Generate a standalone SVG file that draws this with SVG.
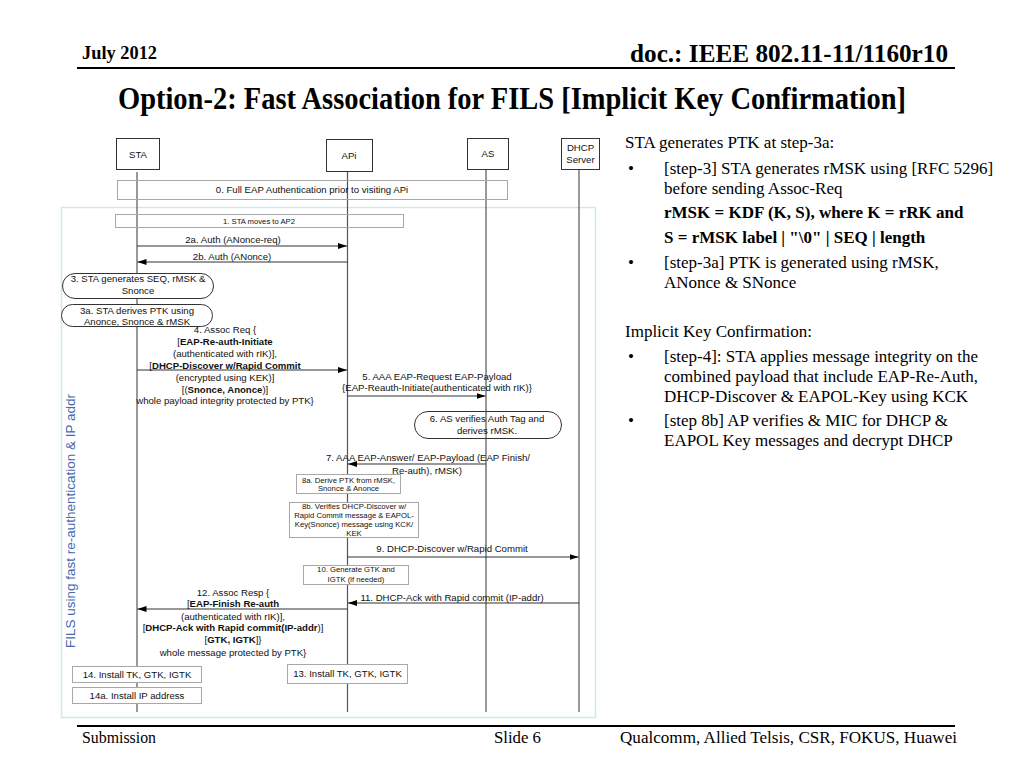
<svg xmlns="http://www.w3.org/2000/svg" width="1024" height="768" viewBox="0 0 1024 768">
<style>
.serif{font-family:"Liberation Serif","Times New Roman",serif;fill:#000}
.sans{font-family:"Liberation Sans",Arial,sans-serif;fill:#111;font-size:9.6px}
.sm{font-size:7.7px}
.mid{text-anchor:middle}
.b{font-weight:bold}
.part{fill:#fff;stroke:#333;stroke-width:1}
.gbox{fill:#fff;stroke:#a8a8a8;stroke-width:1}
.obox{fill:none;stroke:#a8a8a8;stroke-width:1}
.pill{fill:#fff;stroke:#333;stroke-width:1}
.life{stroke:#555;stroke-width:1.2;fill:none}
.msg{stroke:#333;stroke-width:1.1;fill:none;marker-end:url(#ah)}
</style>
<defs>
<marker id="ah" markerUnits="userSpaceOnUse" markerWidth="10" markerHeight="8" refX="9" refY="3" orient="auto">
<path d="M0,0 L9,3 L0,6 Z" fill="#000"/>
</marker>
</defs>
<rect width="1024" height="768" fill="#fff"/>
<!-- header -->
<text class="serif b" x="82" y="59" font-size="18" textLength="75" lengthAdjust="spacingAndGlyphs">July 2012</text>
<text class="serif b" x="948" y="62" font-size="26" text-anchor="end" textLength="318" lengthAdjust="spacingAndGlyphs">doc.: IEEE 802.11-11/1160r10</text>
<line x1="77" y1="68" x2="955" y2="68" stroke="#000" stroke-width="2"/>
<text class="serif b" x="118" y="109" font-size="31" textLength="788" lengthAdjust="spacingAndGlyphs">Option-2: Fast Association for FILS [Implicit Key Confirmation]</text>
<!-- footer -->
<line x1="77" y1="726" x2="955" y2="726" stroke="#000" stroke-width="2"/>
<text class="serif" x="82" y="743" font-size="17" textLength="74" lengthAdjust="spacingAndGlyphs">Submission</text>
<text class="serif" x="494" y="743" font-size="17" textLength="47" lengthAdjust="spacingAndGlyphs">Slide 6</text>
<text class="serif" x="620" y="743" font-size="17" textLength="337" lengthAdjust="spacingAndGlyphs">Qualcomm, Allied Telsis, CSR, FOKUS, Huawei</text>
<!-- right text -->
<g class="serif" font-size="17">
<text x="625" y="148">STA generates PTK at step-3a:</text>
<text x="628" y="174">•</text>
<text x="664" y="174">[step-3] STA generates rMSK using [RFC 5296]</text>
<text x="664" y="194">before sending Assoc-Req</text>
<text x="664" y="218" font-weight="bold">rMSK = KDF (K, S), where K = rRK and</text>
<text x="664" y="243" font-weight="bold">S = rMSK label | "\0" | SEQ | length</text>
<text x="628" y="268">•</text>
<text x="664" y="268">[step-3a] PTK is generated using rMSK,</text>
<text x="664" y="288">ANonce &amp; SNonce</text>
<text x="625" y="337">Implicit Key Confirmation:</text>
<text x="628" y="362">•</text>
<text x="664" y="362">[step-4]: STA applies message integrity on the</text>
<text x="664" y="382">combined payload that include EAP-Re-Auth,</text>
<text x="664" y="402">DHCP-Discover &amp; EAPOL-Key using KCK</text>
<text x="628" y="426">•</text>
<text x="664" y="426">[step 8b] AP verifies &amp; MIC for DHCP &amp;</text>
<text x="664" y="446">EAPOL Key messages and decrypt DHCP</text>
</g>
<!-- FILS frame -->
<g id="fils-frame">
<rect x="61.5" y="207.5" width="534" height="510" fill="none" stroke="#d3e6ea" stroke-width="1.5"/>
<text transform="translate(75,521) rotate(-90)" font-family="Liberation Sans,Arial,sans-serif" font-size="13.5" fill="#4469b0" text-anchor="middle">FILS using fast re-authentication &amp; IP addr</text>
</g>
<!-- lifelines -->
<g id="lifelines">
<line class="life" x1="137" y1="172" x2="137" y2="712"/>
<line class="life" x1="347.5" y1="171" x2="347.5" y2="712"/>
<line class="life" x1="486" y1="169" x2="486" y2="712"/>
<line class="life" x1="579" y1="169" x2="579" y2="712"/>
</g>
<!-- participants -->
<g id="sta"><rect class="part" x="116.5" y="138.5" width="43" height="31"/><text class="sans mid" x="138" y="157.5">STA</text></g>
<g id="api"><rect class="part" x="326.5" y="139.5" width="46" height="32"/><text class="sans mid" x="349" y="158.5">APi</text></g>
<g id="as"><rect class="part" x="467.5" y="138.5" width="41" height="31"/><text class="sans mid" x="488" y="156.5">AS</text></g>
<g id="dhcp"><rect class="part" x="561.5" y="138.5" width="38" height="31"/><text class="sans mid" x="580.5" y="150.5">DHCP</text><text class="sans mid" x="580.5" y="162.5">Server</text></g>
<!-- notes -->
<g id="step0"><rect class="obox" x="117.5" y="180.5" width="390" height="19"/><text class="sans mid" x="312" y="192.8">0. Full EAP Authentication prior to visiting APi</text></g>
<g id="step1"><rect class="obox" x="115.5" y="214.5" width="288" height="13"/><text class="sans sm mid" x="259" y="223.6">1. STA moves to AP2</text></g>
<g id="step3"><rect class="pill" x="62.5" y="273.5" width="151" height="25" rx="12.5"/><text class="sans mid" x="138" y="281.5">3. STA generates SEQ, rMSK &amp;</text><text class="sans mid" x="138" y="293.5">Snonce</text></g>
<g id="step3a"><rect class="pill" x="61.5" y="304.5" width="151" height="22" rx="11"/><text class="sans mid" x="137" y="313.5">3a. STA derives PTK using</text><text class="sans mid" x="137" y="324.5">Anonce, Snonce &amp; rMSK</text></g>
<g id="step6"><rect x="414.5" y="411.5" width="147" height="27" rx="13.5" fill="none" stroke="#333"/><text class="sans mid" x="487" y="421.5">6. AS verifies Auth Tag and</text><text class="sans mid" x="487" y="433.5">derives rMSK.</text></g>
<g id="step8a"><rect class="gbox" x="296.5" y="474.5" width="104" height="19"/><text class="sans sm mid" x="348.5" y="482.7">8a. Derive PTK from rMSK,</text><text class="sans sm mid" x="348.5" y="490.9">Snonce &amp; Anonce</text></g>
<g id="step8b"><rect class="gbox" x="289.5" y="502.5" width="129" height="35"/><text class="sans sm mid" x="354" y="508.8">8b. Verifies DHCP-Discover w/</text><text class="sans sm mid" x="354" y="517.8">Rapid Commit message &amp; EAPOL-</text><text class="sans sm mid" x="354" y="526.8">Key(Snonce) message using KCK/</text><text class="sans sm mid" x="354" y="535.6">KEK</text></g>
<g id="step10"><rect class="gbox" x="303.5" y="565.5" width="105" height="19"/><text class="sans sm mid" x="356" y="572">10. Generate GTK and</text><text class="sans sm mid" x="356" y="581.8">IGTK (if needed)</text></g>
<g id="step13"><rect class="gbox" x="287.5" y="664.5" width="120" height="19"/><text class="sans mid" x="347.5" y="677">13. Install TK, GTK, IGTK</text></g>
<g id="step14"><rect class="gbox" x="72.5" y="666.5" width="129" height="16"/><text class="sans mid" x="137" y="678">14. Install TK, GTK, IGTK</text></g>
<g id="step14a"><rect class="gbox" x="72.5" y="687.5" width="129" height="16"/><text class="sans mid" x="137" y="699">14a. Install IP address</text></g>
<!-- connectors -->
<g id="connectors">
<line class="msg" x1="137" y1="246" x2="347" y2="246"/>
<line class="msg" x1="347.5" y1="262" x2="137.5" y2="262"/>
<line class="msg" x1="137" y1="370" x2="347" y2="370"/>
<line class="msg" x1="347.5" y1="396" x2="485.5" y2="396"/>
<line class="msg" x1="486" y1="464" x2="348" y2="464"/>
<line class="msg" x1="347.5" y1="557" x2="578.5" y2="557"/>
<line class="msg" x1="579" y1="603" x2="348" y2="603"/>
<line class="msg" x1="347.5" y1="609" x2="137.5" y2="609"/>
</g>
<!-- message labels -->
<g id="labels" class="sans">
<text class="mid" x="233" y="242.8">2a. Auth (ANonce-req)</text>
<text class="mid" x="232" y="259.5">2b. Auth (ANonce)</text>
<text class="mid" x="225" y="333">4. Assoc Req {</text>
<text class="mid" x="225" y="345">[<tspan font-weight="bold">EAP-Re-auth-Initiate</tspan></text>
<text class="mid" x="225" y="357">(authenticated with rIK)],</text>
<text class="mid" x="225" y="368.5">[<tspan font-weight="bold">DHCP-Discover w/Rapid Commit</tspan></text>
<text class="mid" x="225" y="380.5">(encrypted using KEK)]</text>
<text class="mid" x="225" y="392.5">[(<tspan font-weight="bold">Snonce, Anonce</tspan>)]</text>
<text class="mid" x="225" y="404">whole payload integrity protected by PTK}</text>
<text class="mid" x="437" y="379.5">5. AAA EAP-Request EAP-Payload</text>
<text class="mid" x="437" y="390.8">{EAP-Reauth-Initiate(authenticated with rIK)}</text>
<text class="mid" x="428" y="460.5">7. AAA EAP-Answer/ EAP-Payload (EAP Finish/</text>
<text class="mid" x="427" y="473.5">Re-auth), rMSK)</text>
<text class="mid" x="452" y="551.5">9. DHCP-Discover w/Rapid Commit</text>
<text class="mid" x="452" y="600.8">11. DHCP-Ack with Rapid commit (IP-addr)</text>
<text class="mid" x="233" y="596">12. Assoc Resp {</text>
<text class="mid" x="233" y="607">[<tspan font-weight="bold">EAP-Finish Re-auth</tspan></text>
<text class="mid" x="233" y="619.5">(authenticated with rIK)],</text>
<text class="mid" x="233" y="631.3">[<tspan font-weight="bold">DHCP-Ack with Rapid commit(IP-addr</tspan>)]</text>
<text class="mid" x="233" y="643">[<tspan font-weight="bold">GTK, IGTK</tspan>]}</text>
<text class="mid" x="233" y="655.5">whole message protected by PTK}</text>
</g>
</svg>
